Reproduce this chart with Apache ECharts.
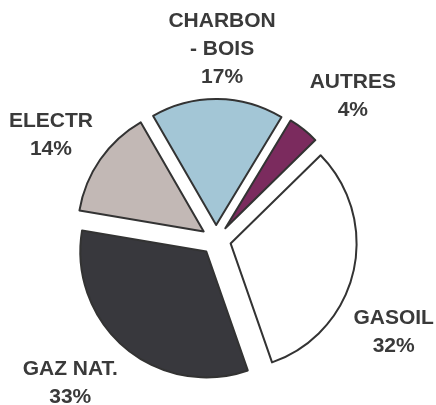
<!DOCTYPE html>
<html>
<head>
<meta charset="utf-8">
<script src="https://cdn.jsdelivr.net/npm/echarts@6/dist/echarts.min.js"></script>
<style>
	html, body { margin: 0; padding: 0; background: #fff; }
	#main { width: 436px; height: 405px; }
</style>
</head>
<body>
<div id="main"></div>
<script>
/** ----------------数据------------------------- */
var categories = ['AUTRES', 'GASOIL', 'GAZ NAT.', 'ELECTR', 'CHARBON\n- BOIS'];
var values = [4, 32, 33, 14, 17];
var colors = ['#7b2b5e', '#ffffff', '#38383d', '#c2b8b5', '#a3c6d6'];

// petit décalage des étiquettes (dx, dy)
var labelShift = [[12, 14], [-18, 46], [-16, -10], [0, 10], [4, 10]];

/** --------construction du graphique ------ */
function initChart() {
	var chart = echarts.init(document.getElementById('main'), null, {renderer: 'canvas'});

	var sliceData = [];
	var labelData = [];
	for (var i = 0; i < categories.length; i++) {
		sliceData.push({
			name : categories[i],
			value : values[i],
			selected : true,
			itemStyle : { color : colors[i] }
		});
		labelData.push({ name : categories[i], value : values[i] });
	}

	var option = {
		animation : false,
		series : [{
			type : 'pie',
			center : [216, 240],
			radius : [0, 126],
			startAngle : 58.8,
			clockwise : true,
			selectedMode : 'multiple',
			selectedOffset : 15,
			silent : true,
			label : { show : false },
			labelLine : { show : false },
			itemStyle : {
				borderColor : '#333333',
				borderWidth : 2
			},
			data : sliceData
		}, {
			type : 'pie',
			center : [216, 240],
			radius : [190, 206],
			startAngle : 58.8,
			clockwise : true,
			silent : true,
			itemStyle : { color : 'rgba(0,0,0,0)', borderWidth : 0 },
			labelLine : { show : false },
			label : {
				show : true,
				position : 'inside',
				rotate : 0,
				color : '#3a3a3a',
				fontFamily : 'Liberation Sans, Arial, sans-serif',
				fontWeight : 'bold',
				fontSize : 21,
				lineHeight : 28,
				align : 'center',
				formatter : function(p) {
					return p.name + '\n' + p.value + '%';
				}
			},
			labelLayout : function(params) {
				var s = labelShift[params.dataIndex];
				return { dx : s[0], dy : s[1] };
			},
			data : labelData
		}]
	};
	chart.setOption(option);
}

initChart();
</script>
</body>
</html>
